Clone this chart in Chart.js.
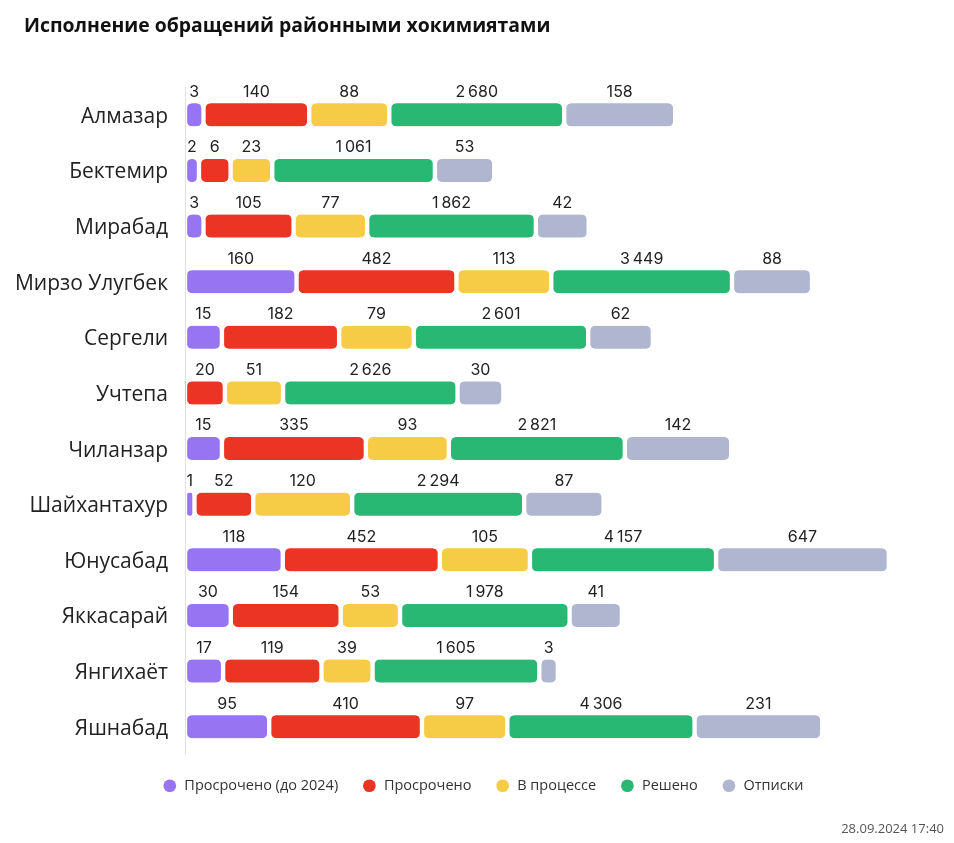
<!DOCTYPE html>
<html>
<head>
<meta charset="utf-8">
<script src="https://cdn.jsdelivr.net/npm/chart.js@4"></script>
<style>
  body { margin: 0; background: #fff; }
  #wrap { position: relative; width: 954px; height: 843px; }
  #title { position: absolute; left: 24px; top: 11px; line-height: 26px; font: bold 19.4px "Open Sans", sans-serif; color: #111; }
  #stamp { position: absolute; right: 10px; top: 819px; font: 13px "Open Sans", sans-serif; color: #555; }
</style>
</head>
<body>
<div id="wrap">
  <canvas id="hokimChart"></canvas>
  <div id="title">Исполнение обращений районными хокимиятами</div>
  <div id="stamp">28.09.2024 17:40</div>
</div>
<script>
const districts = ['Алмазар', 'Бектемир', 'Мирабад', 'Мирзо Улугбек', 'Сергели', 'Учтепа',
    'Чиланзар', 'Шайхантахур', 'Юнусабад', 'Яккасарай', 'Янгихаёт', 'Яшнабад'];

const overdueOld = [3, 2, 3, 160, 15, 0, 15, 1, 118, 30, 17, 95];        // Просрочено (до 2024)
const overdue    = [140, 6, 105, 482, 182, 20, 335, 52, 452, 154, 119, 410];
const inProgress = [88, 23, 77, 113, 79, 51, 93, 120, 105, 53, 39, 97];
const solved     = [2680, 1061, 1862, 3449, 2601, 2626, 2821, 2294, 4157, 1978, 1605, 4306];
const replies    = [158, 53, 42, 88, 62, 30, 142, 87, 647, 41, 3, 231];   // Отписки

const seriesNames = ['Просрочено (до 2024)', 'Просрочено', 'В процессе', 'Решено', 'Отписки'];
const seriesColors = ['#9774F1', '#EC3424', '#F6CC46', '#28B874', '#B1B6D0'];

const GAP = 5; // white space between segments

// segment length is not linear in the original: linear for small numbers,
// logarithmic above ~120, and "Решено" squeezed into a narrow band
function segLen(v, k) {
    if (!v) return 0;
    if (k === 3) return 152 + 0.0077 * v;
    if (v <= 120) return Math.min(4.6 * v, 23.5 + 0.6 * v);
    return 95.5 + 44.5 * Math.log(v / 120);
}

function fmt(v) {
    return String(v).replace(/\B(?=(\d{3})+(?!\d))/g, '\u2009');
}

let allSeries = [overdueOld, overdue, inProgress, solved, replies];
let datasets = [];
allSeries.forEach((vals, k) => {
    datasets.push({
        label: seriesNames[k],
        data: vals.map(v => v ? segLen(v, k) + GAP : 0),
        values: vals,
        backgroundColor: seriesColors[k],
        borderColor: 'rgba(0,0,0,0)',
        borderWidth: {left: GAP / 2, right: GAP / 2, top: 0, bottom: 0},
        borderSkipped: false,
        borderRadius: {topLeft: 7.5, topRight: 7.5, bottomLeft: 7.5, bottomRight: 7.5},
        barThickness: 23
    });
});

// numbers above every segment
const valueLabels = {
    id: 'valueLabels',
    afterDatasetsDraw(chart) {
        const ctx = chart.ctx;
        ctx.save();
        ctx.font = '16px Inter, sans-serif';
        ctx.fillStyle = '#222';
        ctx.textAlign = 'center';
        ctx.textBaseline = 'middle';
        chart.data.datasets.forEach((ds, i) => {
            chart.getDatasetMeta(i).data.forEach((bar, j) => {
                let v = ds.values[j];
                if (!v) return;
                let cx = (bar.x + bar.base) / 2;
                ctx.fillText(fmt(v), cx, bar.y - bar.height / 2 - 11.5);
            });
        });
        ctx.restore();
    }
};

var ctx = document.getElementById('hokimChart').getContext('2d');
var myChart = new Chart(ctx, {
    type: 'bar',
    data: { labels: districts, datasets: datasets },
    options: {
        indexAxis: 'y',
        responsive: true,
        maintainAspectRatio: false,
        animation: false,
        layout: { padding: { left: 0, right: -12, top: 87, bottom: 40 } },
        scales: {
            x: { stacked: true, display: false, min: 0, max: 781 },
            y: {
                stacked: true,
                grid: { display: false, drawTicks: false },
                border: { display: true, color: '#DEDFF0', width: 1 },
                ticks: { color: '#222', padding: 17, labelOffset: 2, font: { family: 'Open Sans', size: 21 } },
                afterFit(scale) { scale.width = 185; }
            }
        },
        plugins: {
            title: { display: false },
            legend: {
                position: 'bottom',
                labels: {
                    usePointStyle: true,
                    pointStyle: 'circle',
                    boxHeight: 9,
                    padding: 24,
                    color: '#333',
                    font: { family: 'Open Sans', size: 14.5 }
                }
            },
            tooltip: { enabled: false }
        }
    },
    plugins: [valueLabels]
});
</script>
</body>
</html>
